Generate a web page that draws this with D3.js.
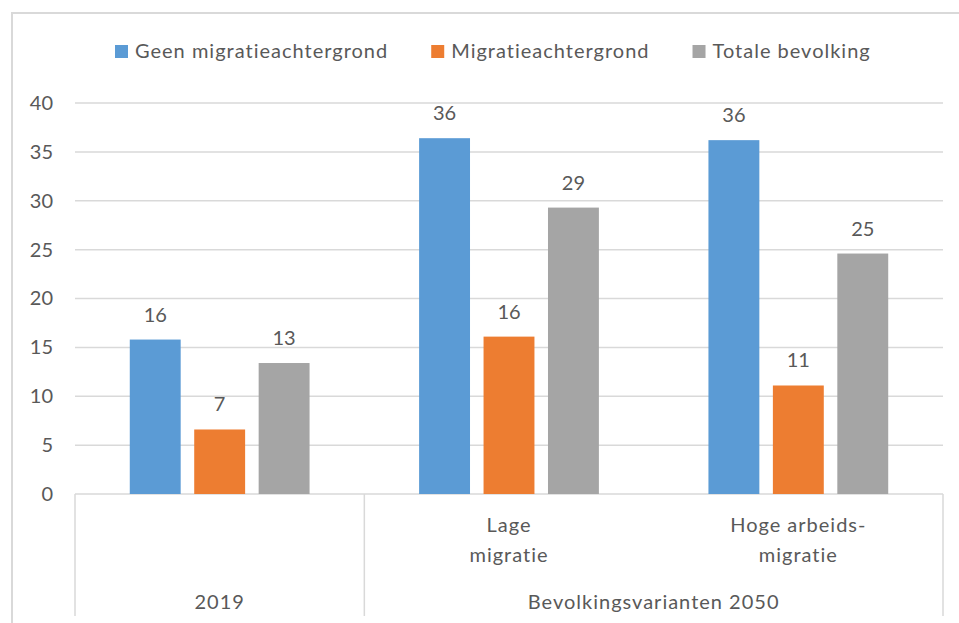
<!DOCTYPE html>
<html lang="nl">
<head>
<meta charset="utf-8">
<title>Migratieachtergrond</title>
<script src="https://d3js.org/d3.v7.min.js"></script>
<style>
  body { margin: 0; background: #fff; }
  text { font-family: Lato, "Open Sans", sans-serif; fill: #595959; }
  .lbl { letter-spacing: 1px; }
</style>
</head>
<body>
<script>
// data
var categories = ["2019", "Lage migratie", "Hoge arbeids-migratie"];
var categoryLines = [[], ["Lage", "migratie"], ["Hoge arbeids-", "migratie"]];
var groupLabels = ["2019", "Bevolkingsvarianten 2050"];
var groupSpans = [[0, 0], [1, 2]];
var series = ["Geen migratieachtergrond", "Migratieachtergrond", "Totale bevolking"];
var geenMigratie = [15.8, 36.4, 36.2];
var metMigratie = [6.6, 16.1, 11.1];
var totaal = [13.4, 29.3, 24.6];
var yTicks = [0, 5, 10, 15, 20, 25, 30, 35, 40];
var colors = ["#5b9bd5", "#ed7d31", "#a5a5a5"];

var values = [geenMigratie, metMigratie, totaal];

var w = 959, h = 623;
var margin = {left: 75, right: 16, top: 103, bottom: 129};

var svg = d3.select("body").append("svg").attr("width", w).attr("height", h);

// frame
svg.append("rect").attr("x", 12).attr("y", 13).attr("width", w).attr("height", h)
  .attr("fill", "none").attr("stroke", "#d9d9d9").attr("stroke-width", 2);

var x0 = d3.scaleBand().domain(categories).range([margin.left, w - margin.right]);
var x1 = d3.scaleBand().domain(series).range([0, x0.bandwidth()])
  .paddingInner(0.21).paddingOuter(0.85);
var y = d3.scaleLinear().domain([0, 40]).range([h - margin.bottom, margin.top]);

// gridlines
svg.append("g").selectAll("line").data(yTicks).enter().append("line")
  .attr("x1", margin.left).attr("x2", w - margin.right)
  .attr("y1", d => y(d)).attr("y2", d => y(d))
  .attr("stroke", "#d9d9d9").attr("stroke-width", 1.5);

// y axis labels
var yAxis = d3.axisLeft(y).tickValues(yTicks).tickSize(0).tickPadding(22);
var ya = svg.append("g").attr("transform", "translate(" + margin.left + ",0)").call(yAxis);
ya.select(".domain").remove();
ya.selectAll("text").attr("font-size", 20).style("font-family", "Lato").attr("fill", "#595959");

// bars
var groups = svg.append("g").selectAll("g").data(categories).enter().append("g")
  .attr("transform", d => "translate(" + x0(d) + ",0)");

groups.selectAll("rect").data((d, i) => series.map((s, j) => ({s: s, v: values[j][i], j: j})))
  .enter().append("rect")
  .attr("x", d => x1(d.s)).attr("width", x1.bandwidth())
  .attr("y", d => y(d.v)).attr("height", d => y(0) - y(d.v))
  .attr("fill", d => colors[d.j]);

groups.selectAll("text.val").data((d, i) => series.map((s, j) => ({s: s, v: values[j][i]})))
  .enter().append("text").attr("class", "val")
  .attr("x", d => x1(d.s) + x1.bandwidth() / 2)
  .attr("y", d => y(d.v) - 18)
  .attr("text-anchor", "middle").attr("font-size", 20)
  .text(d => d3.format(".0f")(d.v));

// category axis box
var axisBottom = y(0) + 122;
var sepX = [x0(categories[0]), x0(categories[1]), x0(categories[2]) + x0.bandwidth()];
svg.append("g").selectAll("line").data(sepX).enter().append("line")
  .attr("x1", d => d).attr("x2", d => d)
  .attr("y1", y(0)).attr("y2", axisBottom)
  .attr("stroke", "#d9d9d9").attr("stroke-width", 1.5);

// category labels
categories.forEach(function (c, i) {
  var cx = x0(c) + x0.bandwidth() / 2;
  var t = svg.append("text").attr("class", "lbl").attr("text-anchor", "middle").attr("font-size", 20)
    .attr("x", cx).attr("y", y(0) + 38);
  categoryLines[i].forEach(function (line, k) {
    t.append("tspan").attr("x", cx).attr("dy", k === 0 ? 0 : 30).text(line);
  });
});

groupLabels.forEach(function (g, i) {
  var a = x0(categories[groupSpans[i][0]]);
  var b = x0(categories[groupSpans[i][1]]) + x0.bandwidth();
  svg.append("text").attr("class", "lbl").attr("text-anchor", "middle").attr("font-size", 20)
    .attr("x", (a + b) / 2).attr("y", y(0) + 115).text(g);
});

// legend
var legend = svg.append("g");
var lx = 115;
series.forEach(function (s, i) {
  legend.append("rect").attr("x", lx).attr("y", 45).attr("width", 13).attr("height", 13)
    .attr("fill", colors[i]);
  var t = legend.append("text").attr("class", "lbl").attr("x", lx + 20).attr("y", 58)
    .attr("font-size", 20).text(s);
  lx += 20 + t.node().getComputedTextLength() + 43;
});
</script>
</body>
</html>
